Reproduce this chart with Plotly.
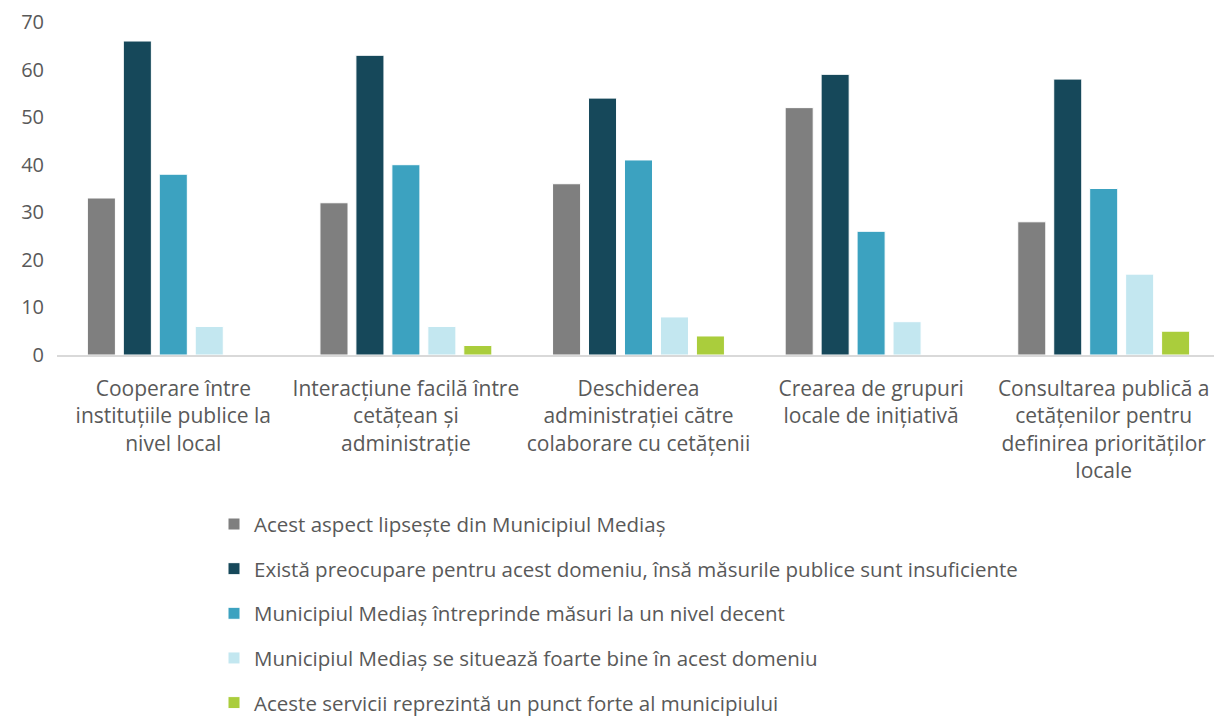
import plotly.graph_objects as go

categories = [
    "Cooperare între<br>instituțiile publice la<br>nivel local",
    "Interacțiune facilă între<br>cetățean și<br>administrație",
    "Deschiderea<br>administrației către<br>colaborare cu cetățenii",
    "Crearea de grupuri<br>locale de inițiativă",
    "Consultarea publică a<br>cetățenilor pentru<br>definirea priorităților<br>locale",
]
series_names = [
    "Acest aspect lipsește din Municipiul Mediaș",
    "Există preocupare pentru acest domeniu, însă măsurile publice sunt insuficiente",
    "Municipiul Mediaș întreprinde măsuri la un nivel decent",
    "Municipiul Mediaș se situează foarte bine în acest domeniu",
    "Aceste servicii reprezintă un punct forte al municipiului",
]
lipseste = [33, 32, 36, 52, 28]
preocupare = [66, 63, 54, 59, 58]
decent = [38, 40, 41, 26, 35]
foarte_bine = [6, 6, 8, 7, 17]
punct_forte = [0, 2, 4, 0, 5]
values = [lipseste, preocupare, decent, foarte_bine, punct_forte]
colors = ["#7f7f7f", "#16485a", "#3ca2c0", "#c3e7f0", "#aacd3c"]

fig = go.Figure()
for i, (name, vals, col) in enumerate(zip(series_names, values, colors)):
    fig.add_trace(go.Bar(
        x=categories, y=vals, name=name, legendgroup=f"g{i}",
        marker=dict(color=col, line=dict(color="white", width=1)),
    ))

font = "'Open Sans', 'Noto Sans', sans-serif"
fig.update_layout(
    width=1214, height=712,
    margin=dict(l=49, r=2, t=14, b=365, autoexpand=False),
    plot_bgcolor="white", paper_bgcolor="white",
    barmode="group", bargap=0.227, bargroupgap=0.22,
    font=dict(family=font, size=21, color="#595959"),
    showlegend=True,
    legend=dict(
        orientation="v", x=0.135, xanchor="left", y=-0.448, yanchor="top",
        font=dict(size=20.5, color="#595959"), tracegroupgap=15,
        itemwidth=30,
    ),
    xaxis=dict(
        showline=True, linecolor="#d9d9d9", linewidth=1.5, automargin=False,
        ticks="", tickfont=dict(size=21, color="#595959"), ticklabelstandoff=14,
    ),
    yaxis=dict(
        range=[0, 70], dtick=10, showgrid=False, zeroline=False, automargin=False,
        showline=False, ticks="", ticklabelstandoff=12,
        tickfont=dict(size=20, color="#595959"),
    ),
)

fig.write_html("out.html")
